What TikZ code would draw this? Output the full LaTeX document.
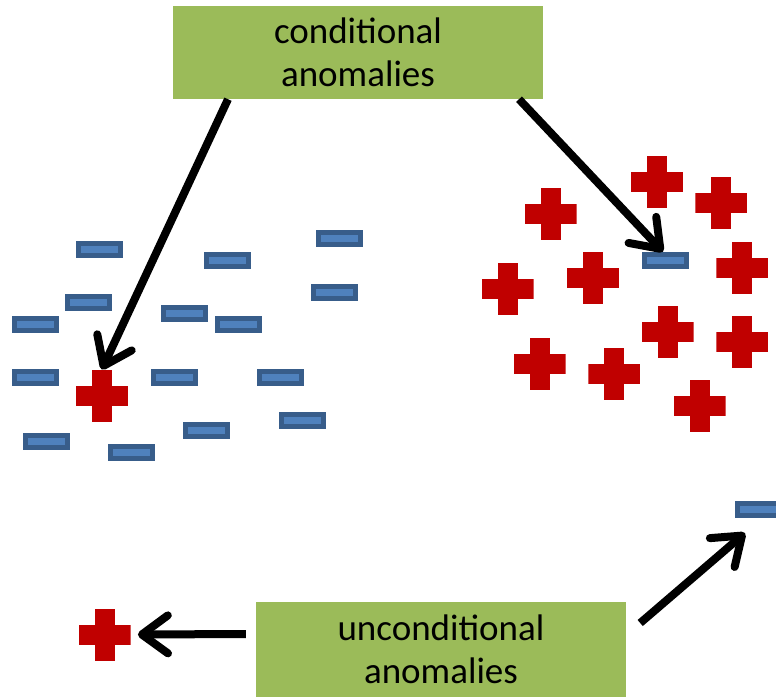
\documentclass[tikz,border=0pt]{standalone}
\usepackage{fontspec}
\setmainfont{Carlito}
\usetikzlibrary{arrows.meta}
\definecolor{boxgreen}{HTML}{9BBB59}
\definecolor{plusred}{HTML}{C00000}
\definecolor{minusfill}{HTML}{4F81BD}
\definecolor{minusline}{HTML}{385D8A}
\begin{document}
\begin{tikzpicture}[x=1pt,y=-1pt,
  labelbox/.style={fill=boxgreen, minimum width=370pt, inner sep=0pt, align=center,
    font=\fontsize{37}{43}\selectfont, text=black},
  minusnode/.style={rectangle, fill=minusfill, draw=minusline, line width=5pt,
    minimum width=42pt, minimum height=12pt, inner sep=0pt},
  plusnode/.style={rectangle, minimum size=52pt, inner sep=0pt,
    path picture={
      \fill[plusred] ([xshift=-26pt,yshift=-10pt]path picture bounding box.center)
        rectangle ([xshift=26pt,yshift=10pt]path picture bounding box.center);
      \fill[plusred] ([xshift=-10pt,yshift=-26pt]path picture bounding box.center)
        rectangle ([xshift=10pt,yshift=26pt]path picture bounding box.center);
    }},
  bigarrow/.style={line width=8pt, line cap=butt, line join=round,
    -{Straight Barb[length=26pt,width=38pt,line cap=round,line join=round]}}
]
\useasboundingbox (0,0) rectangle (776,697);

% label boxes
\node[labelbox, minimum height=93pt] (cond) at (358,52.5) {conditional\\anomalies};
\node[labelbox, minimum height=95pt] (uncond) at (441,649.5) {unconditional\\anomalies};

% left cluster of minus signs
\node[minusnode] (m1) at (99.5,249.3) {};
\node[minusnode] (m2) at (339.7,238.7) {};
\node[minusnode] (m3) at (227.3,260.2) {};
\node[minusnode] (m4) at (334,292) {};
\node[minusnode] (m5) at (88.7,302.7) {};
\node[minusnode] (m6) at (184.7,313.5) {};
\node[minusnode] (m7) at (35.3,324.3) {};
\node[minusnode] (m8) at (238,324.3) {};
\node[minusnode] (m9) at (35.3,377.3) {};
\node[minusnode] (m10) at (174,377.3) {};
\node[minusnode] (m11) at (280.7,377.3) {};
\node[minusnode] (m12) at (302,420.3) {};
\node[minusnode] (m13) at (206,430.7) {};
\node[minusnode] (m14) at (46,441.3) {};
\node[minusnode] (m15) at (131.3,452) {};

% the plus inside the minus cluster
\node[plusnode] (pa) at (101.8,395.7) {};

% right cluster of plus signs
\node[plusnode] (p1) at (657,182.2) {};
\node[plusnode] (p2) at (721.3,203.3) {};
\node[plusnode] (p3) at (550.5,214) {};
\node[plusnode] (p4) at (742.3,267.7) {};
\node[plusnode] (p5) at (593,278.3) {};
\node[plusnode] (p6) at (507.5,289) {};
\node[plusnode] (p7) at (667.7,331.7) {};
\node[plusnode] (p8) at (742.3,342.3) {};
\node[plusnode] (p9) at (539.7,363.7) {};
\node[plusnode] (p10) at (614.3,374.3) {};
\node[plusnode] (p11) at (699.7,406.3) {};

% the minus inside the plus cluster
\node[minusnode] (mb) at (665,260.2) {};

% isolated points
\node[plusnode] (pu) at (104.7,634.5) {};
\node[minusnode] (mu) at (758.5,509) {};

% arrow anchors (xshift/yshift are in page directions: +y is up)
\coordinate (c1) at ([xshift=-130pt]cond.south);
\coordinate (c2) at ([xshift=161pt]cond.south);
\coordinate (u1) at ([xshift=-10pt,yshift=15.5pt]uncond.west);
\coordinate (u2) at ([xshift=14pt,yshift=26.5pt]uncond.east);

% arrows
\draw[bigarrow] (c1) -- (pa.north);
\draw[bigarrow] (c2) -- ([xshift=-2pt]mb.north);
\draw[bigarrow] (u1) -- ([xshift=7pt]pu.east);
\draw[bigarrow] (u2) -- ([xshift=10pt,yshift=-15.5pt]mu.south west);
\end{tikzpicture}
\end{document}
